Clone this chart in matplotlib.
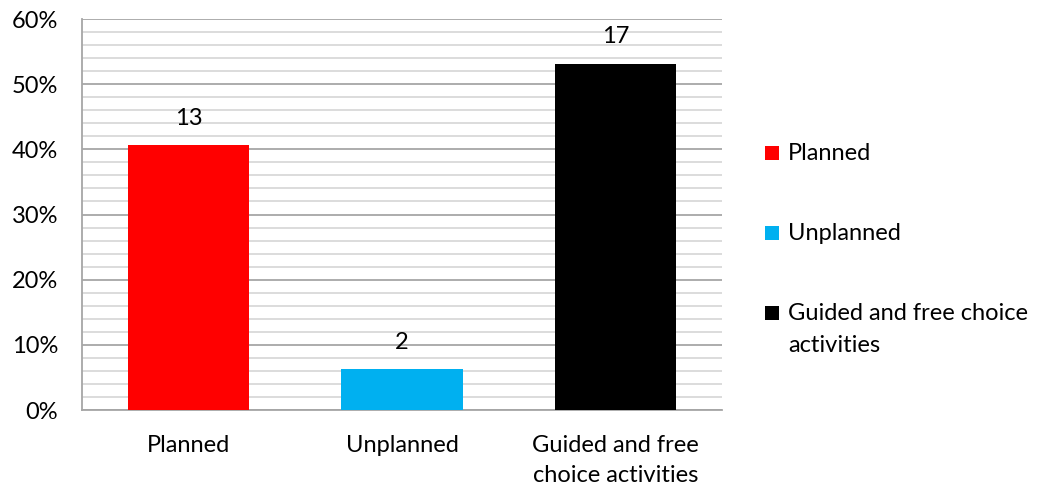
import matplotlib
matplotlib.use("Agg")
import matplotlib.pyplot as plt
from matplotlib.patches import Rectangle
from matplotlib.ticker import MultipleLocator, FuncFormatter

categories = ["Planned", "Unplanned", "Guided and free\nchoice activities"]
legend_labels = ["Planned", "Unplanned", "Guided and free choice\nactivities"]
counts = [13, 2, 17]
total = 32
percents = [c / total * 100 for c in counts]
colors = ["#FF0000", "#00B0F0", "#000000"]

plt.rcParams['font.family'] = ['Lato', 'DejaVu Sans']
FS = 17

fig = plt.figure(figsize=(10.43, 4.88), dpi=100)
ax = fig.add_axes([0.0786, 0.1598, 0.6136, 0.8012])

x = range(len(categories))
bars = ax.bar(x, percents, width=0.57, color=colors, zorder=3)
for xi, p, c in zip(x, percents, counts):
    ax.annotate(str(c), (xi, p), xytext=(0, 19.5), textcoords="offset points",
                ha="center", va="center", fontsize=FS, color="#000000")

ax.set_xlim(-0.5, 2.5)
ax.set_ylim(0, 60)
ax.yaxis.set_major_locator(MultipleLocator(10))
ax.yaxis.set_minor_locator(MultipleLocator(2))
ax.yaxis.set_major_formatter(FuncFormatter(lambda v, _: f"{int(v)}%"))
ax.grid(axis="y", which="major", color="#A6A6A6", linewidth=1.3, zorder=0)
ax.grid(axis="y", which="minor", color="#D9D9D9", linewidth=1.3, zorder=0)
ax.set_xticks(list(x))
ax.set_xticklabels(categories, fontsize=FS, linespacing=1.5)
ax.tick_params(axis="y", which="both", length=0, labelsize=FS, pad=17)
ax.tick_params(axis="x", length=0, pad=18)
for s in ["top", "right"]:
    ax.spines[s].set_visible(False)
for s in ["left", "bottom"]:
    ax.spines[s].set_color("#A6A6A6")
    ax.spines[s].set_linewidth(1.3)

# Legend
W, H = 1043, 488
ys = [153, 233, 313]
for lab, col, y in zip(legend_labels, colors, ys):
    fig.patches.append(Rectangle((765 / W, 1 - (y + 7) / H), 14 / W, 14 / H,
                                 transform=fig.transFigure, facecolor=col,
                                 edgecolor="none"))
    for i, line in enumerate(lab.split("\n")):
        fig.text(788 / W, 1 - (y + 33 * i) / H, line, ha="left", va="center",
                 fontsize=FS)

fig.savefig("out.png", dpi=100)
